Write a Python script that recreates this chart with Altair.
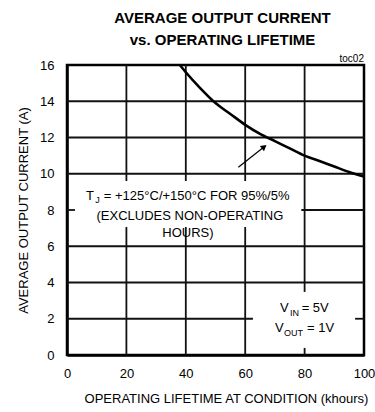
import altair as alt
import pandas as pd

# ---- data ----
life_khours = [38, 40, 45, 50, 55, 60, 65, 70, 75, 80, 85, 90, 95, 100]
avg_current = [16.0, 15.6, 14.7, 13.9, 13.3, 12.7, 12.2, 11.8, 11.4, 11.0, 10.7, 10.4, 10.1, 9.85]

x_ticks = [0, 20, 40, 60, 80, 100]
y_ticks = [0, 2, 4, 6, 8, 10, 12, 14, 16]

title_lines = ["AVERAGE OUTPUT CURRENT", "vs. OPERATING LIFETIME"]
x_title = "OPERATING LIFETIME AT CONDITION (khours)"
y_title = "AVERAGE OUTPUT CURRENT (A)"

ann_text = ["T", "J", "= +125°C/+150°C FOR 95%/5%", "(EXCLUDES NON-OPERATING", "HOURS)",
            "V", "IN", "= 5V", "V", "OUT", "= 1V", "toc02"]
ann_x = [6.4, 9.5, 12.4, 41.4, 40.7, 71.7, 75.1, 79.0, 70.0, 73.1, 80.8, 100]
ann_y = [8.55, 8.36, 8.55, 7.45, 6.53, 2.39, 2.15, 2.39, 1.29, 1.05, 1.29, 16.15]
ann_size = [13, 9, 13, 13, 13, 13, 9, 13, 13, 9, 13, 10]
ann_align = ["left", "left", "left", "center", "center", "left", "left", "left", "left", "left", "left", "right"]

# regions where the gridlines are interrupted behind the annotation texts
gap_x = [2.7, 62.6]
gap_x2 = [78.9, 97.0]
gap_y = [7.06, 0.39]
gap_y2 = [9.6, 3.48]

arrow_x = [57.7, 66.4]
arrow_y = [10.36, 11.49]

FONT = "Liberation Sans"
x_lo, x_hi = x_ticks[0], x_ticks[-1]
y_lo, y_hi = y_ticks[0], y_ticks[-1]


def split(lo, hi, cuts):
    segs = [(lo, hi)]
    for c0, c1 in cuts:
        new = []
        for a, b in segs:
            if c1 <= a or c0 >= b:
                new.append((a, b))
            else:
                if c0 > a:
                    new.append((a, c0))
                if c1 < b:
                    new.append((c1, b))
        segs = new
    return segs


grid_rows = []
for xv in x_ticks[1:-1]:
    cuts = [(gap_y[i], gap_y2[i]) for i in range(len(gap_x)) if gap_x[i] <= xv <= gap_x2[i]]
    for a, b in split(y_lo, y_hi, cuts):
        grid_rows.append({"x": xv, "x2": xv, "y": a, "y2": b})
for yv in y_ticks[1:-1]:
    cuts = [(gap_x[i], gap_x2[i]) for i in range(len(gap_x)) if gap_y[i] <= yv <= gap_y2[i]]
    for a, b in split(x_lo, x_hi, cuts):
        grid_rows.append({"x": a, "x2": b, "y": yv, "y2": yv})
grid_df = pd.DataFrame(grid_rows)

curve_df = pd.DataFrame({"x": life_khours, "y": avg_current})
arrow_df = pd.DataFrame({"x": arrow_x, "y": arrow_y})
head_df = arrow_df.iloc[[1]]

xs = alt.Scale(domain=[0, 100], nice=False, zero=False)
ys = alt.Scale(domain=[0, 16], nice=False, zero=False)

x_axis = alt.Axis(values=x_ticks, title=x_title, grid=False, ticks=False,
                  labelPadding=12, titlePadding=12, titleX=159, titleAlign="center",
                  labelFlush=False, labelOverlap=False)
y_axis = alt.Axis(values=y_ticks, title=y_title, grid=False, ticks=False,
                  labelPadding=13, titlePadding=9, labelFlush=False, labelOverlap=False)

X = alt.X("x:Q", scale=xs, axis=x_axis)
Y = alt.Y("y:Q", scale=ys, axis=y_axis)

grid = alt.Chart(grid_df).mark_rule(color="#111111", strokeWidth=1.8, opacity=1).encode(
    x=X, x2="x2:Q", y=Y, y2="y2:Q")

curve = alt.Chart(curve_df).mark_line(color="black", strokeWidth=2.6,
                                      interpolate="monotone").encode(x=X, y=Y)

shaft = alt.Chart(arrow_df).mark_line(color="black", strokeWidth=1.2).encode(x=X, y=Y)

head = alt.Chart(head_df).mark_point(shape="triangle-up", filled=True, color="black",
                                     size=45, angle=52, opacity=1).encode(x=X, y=Y)

text_layers = []
for t, x, y, s, a in zip(ann_text, ann_x, ann_y, ann_size, ann_align):
    df = pd.DataFrame({"x": [x], "y": [y], "t": [t]})
    text_layers.append(
        alt.Chart(df).mark_text(font=FONT, fontSize=s, align=a, baseline="alphabetic",
                                color="black").encode(x=X, y=Y, text="t:N")
    )

chart = alt.layer(grid, curve, shaft, head, *text_layers).properties(
    width=297,
    height=290,
    padding={"left": 67, "top": 65, "right": 11, "bottom": 57},
    autosize=alt.AutoSizeParams(type="none"),
    title=alt.Title(title_lines, font=FONT, fontSize=15, fontWeight="bold",
                    anchor="middle", dx=7, offset=6, lineHeight=22, color="black"),
    background="white",
).configure_view(
    stroke="black", strokeWidth=2.5
).configure_axis(
    domainColor="black", domainWidth=2.5,
    labelFont=FONT, labelFontSize=13, labelColor="black",
    titleFont=FONT, titleFontSize=13, titleFontWeight="normal", titleColor="black",
)

chart.save("out.html", embed_options={"renderer": "svg", "actions": False})
